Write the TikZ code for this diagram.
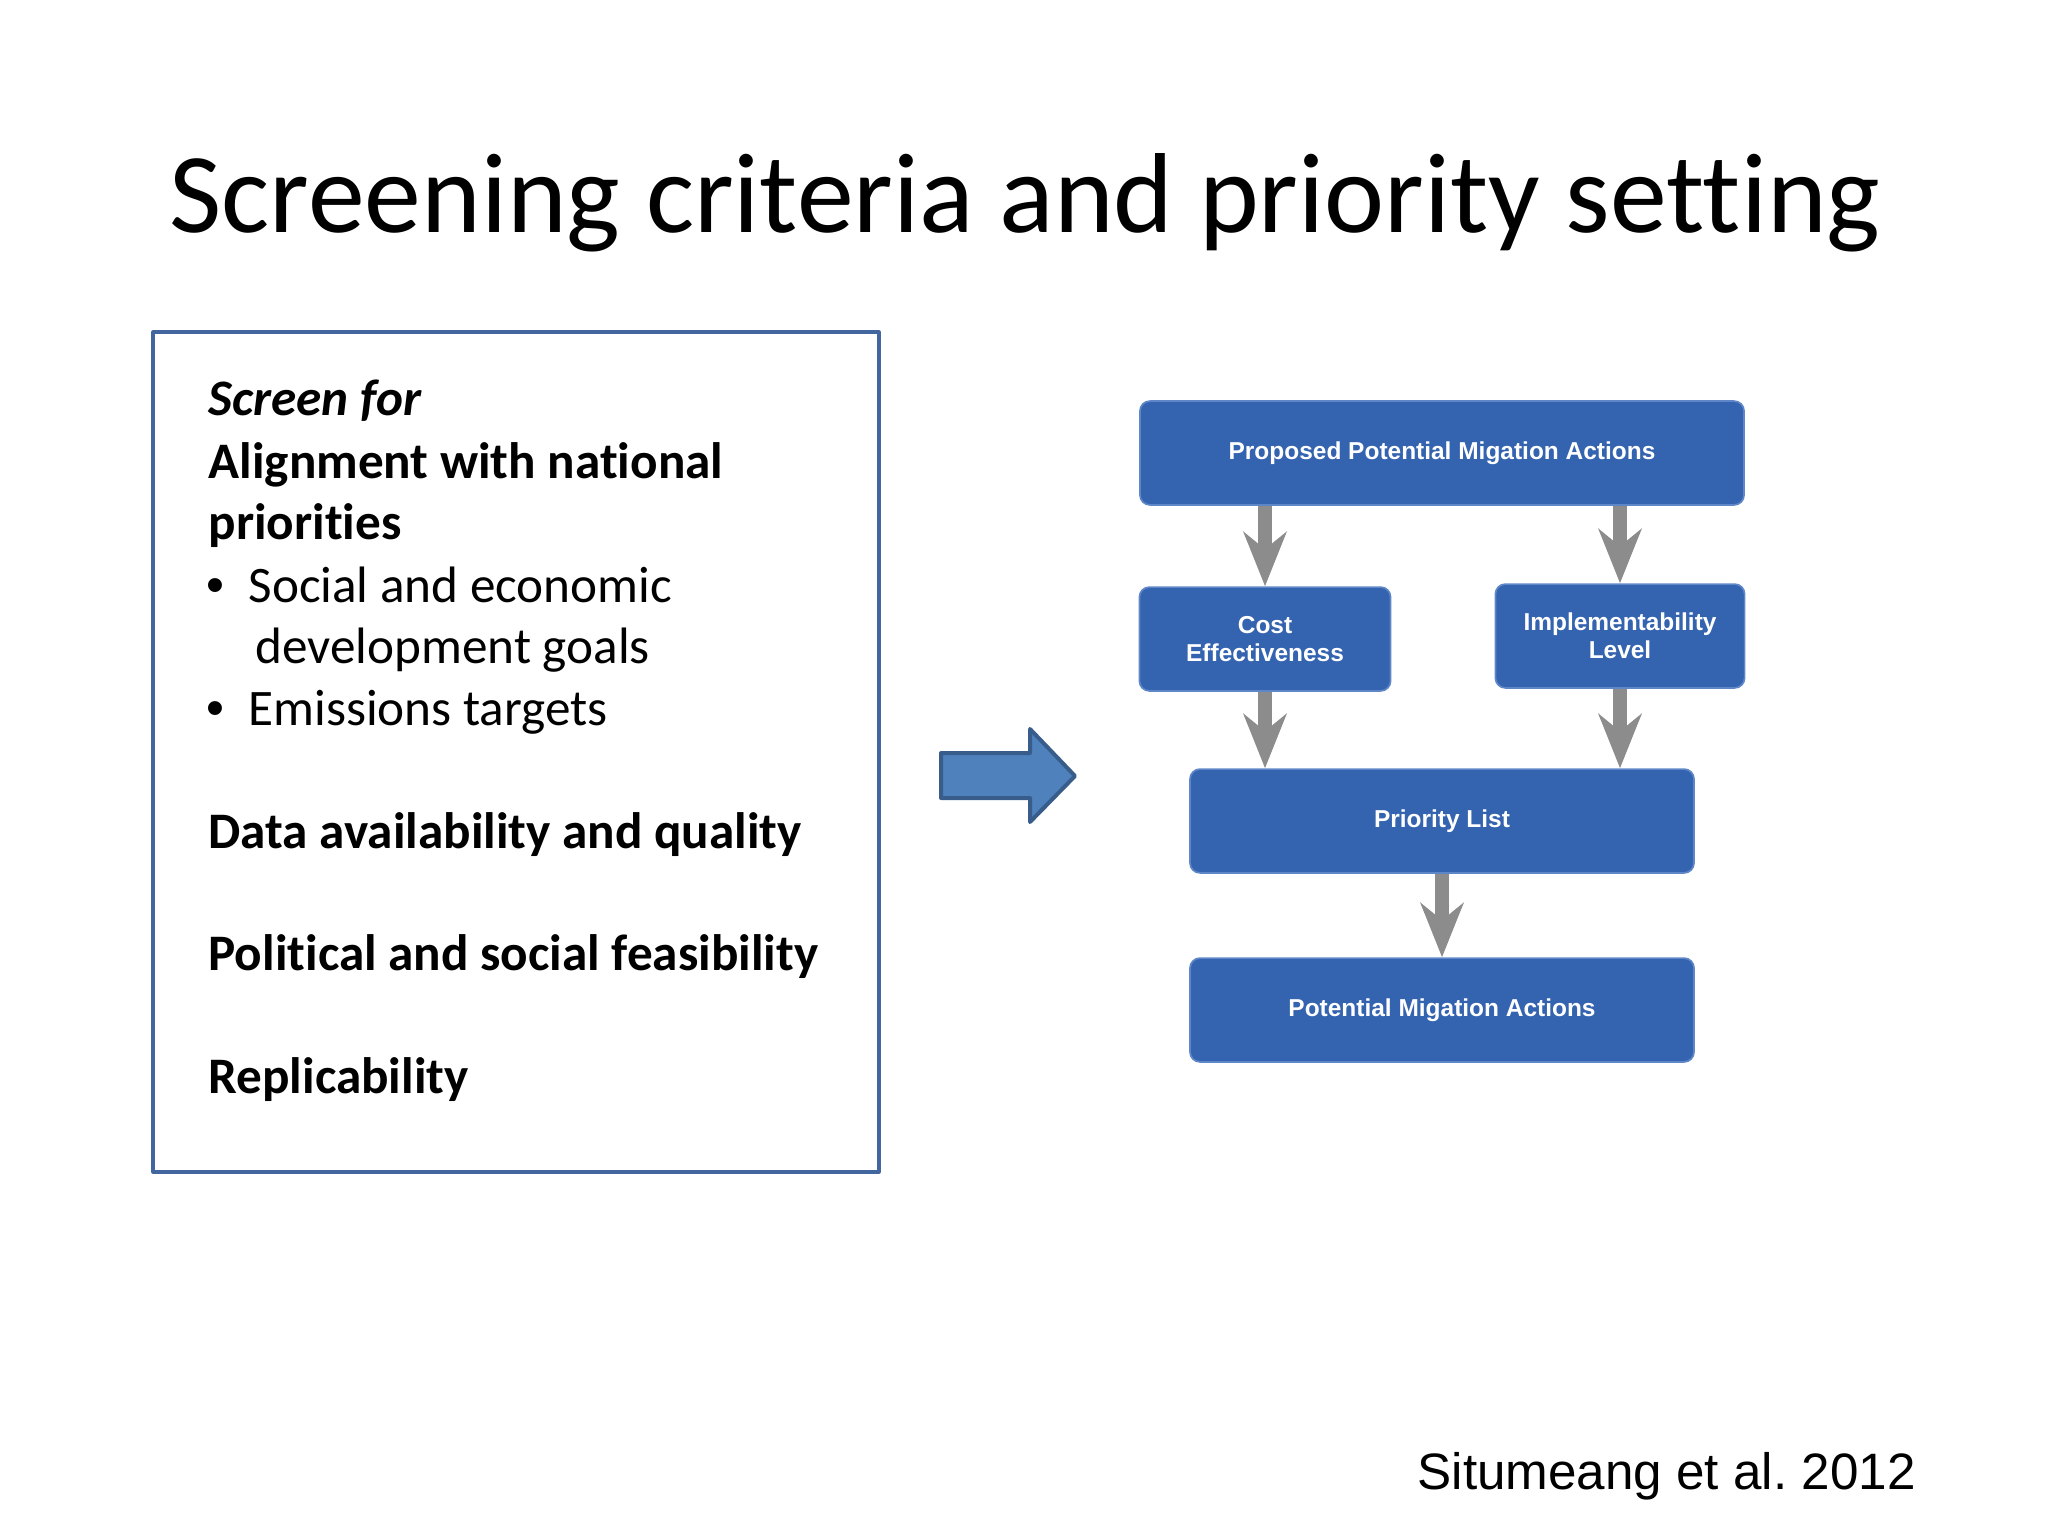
\documentclass[tikz,border=0pt]{standalone}
\usepackage{fontspec}
\setmainfont{Carlito}[Ligatures=NoCommon]
\newfontfamily\arialfont{Liberation Sans}
\usetikzlibrary{arrows.meta}
\definecolor{boxblue}{RGB}{52,99,175}
\definecolor{boxedge}{RGB}{95,135,200}
\definecolor{frameblue}{RGB}{65,103,158}
\definecolor{arrowfill}{RGB}{79,129,189}
\definecolor{arrowedge}{RGB}{56,93,138}
\definecolor{flowgray}{RGB}{140,140,140}
\frenchspacing

\begin{document}
\begin{tikzpicture}[x=0.3516pt, y=-0.3516pt, line cap=butt, line join=round,
  flowbox/.style={rectangle, rounded corners=3.5pt, draw=boxedge, line width=0.6pt, fill=boxblue,
    text=white, font=\arialfont\bfseries\fontsize{8.6}{10}\selectfont, align=center,
    minimum height=36.5pt, inner sep=0pt},
  flowarrow/.style={draw=flowgray, line width=5pt, -{Stealth[length=19pt, width=15pt, inset=6pt]}},
  crit/.style={anchor=base west, inner sep=0pt, font=\fontsize{18}{21.6}\selectfont},
  bullet/.style={anchor=base, inner sep=0pt, font=\arialfont\fontsize{18}{21.6}\selectfont}]
    \useasboundingbox (0,0) rectangle (2048,1536);
    % title
    \node (title) at (1025,232) [anchor=base, inner sep=0pt, font=\fontsize{40}{48}\selectfont] {Screening criteria and priority setting};
    % criteria box
    \draw [frameblue, line width=1.1pt] (153,332) rectangle (879,1172);
    \node[crit] (screen) at (208,415) {\bfseries\itshape Screen for};
    \node[crit] (align) at (208,478) {\bfseries Alignment with national};
    \node[crit] (prios) at (208,539) {\bfseries priorities};
    \node[bullet] (bula) at (215,602) {•};
    \node[crit] (social) at (248,602) {Social and economic};
    \node[crit] (devel) at (255,663) {development goals};
    \node[bullet] (bulb) at (215,725) {•};
    \node[crit] (emiss) at (248,725) {Emissions targets};
    \node[crit] (data) at (208,848) {\bfseries Data availability and quality};
    \node[crit] (polit) at (208,970) {\bfseries Political and social feasibility};
    \node[crit] (repl) at (208,1093) {\bfseries Replicability};
    % big arrow
    \draw [fill=arrowfill, draw=arrowedge, line width=1.4pt]
        (941,753) -- (1030,753) -- (1030,729) -- (1075,776) -- (1030,822) -- (1030,798) -- (941,798) -- cycle;
    % flow chart
    \node[flowbox, minimum width=212.4pt] (prop) at (1442,453) {Proposed Potential Migation Actions};
    \node[flowbox, minimum width=88.3pt] (cost) at (1265,639) {Cost\\Effectiveness};
    \node[flowbox, minimum width=87.6pt] (impl) at (1620,636) {Implementability\\Level};
    \node[flowbox, minimum width=177.2pt] (prio) at (1442,821) {Priority List};
    \node[flowbox, minimum width=177.2pt] (pot) at (1442,1010) {Potential Migation Actions};
    \draw [flowarrow] (prop.south -| cost.north) -- (cost.north);
    \draw [flowarrow] (prop.south -| impl.north) -- (impl.north);
    \draw [flowarrow] (cost.south) -- (cost.south |- prio.north);
    \draw [flowarrow] (impl.south) -- (impl.south |- prio.north);
    \draw [flowarrow] (prio.south) -- (pot.north);
    % source
    \node (cite) at (1417,1489) [anchor=base west, inner sep=0pt, font=\arialfont\fontsize{18}{21.6}\selectfont] {Situmeang et al. 2012};
\end{tikzpicture}
\end{document}
